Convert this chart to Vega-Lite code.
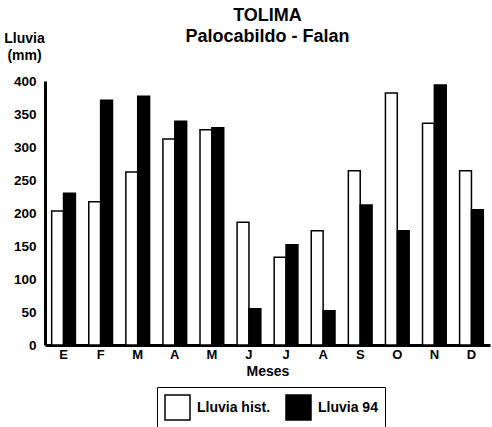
{
  "$schema": "https://vega.github.io/schema/vega-lite/v6.json",
  "autosize": "none",
  "padding": {"left": 45, "top": 81, "right": 2, "bottom": 82},
  "width": 445,
  "height": 264,
  "background": "white",
  "config": {"view": {"stroke": null}, "font": "Liberation Sans"},
  "title": {
    "text": "TOLIMA",
    "subtitle": "Palocabildo - Falan",
    "anchor": "middle",
    "font": "Liberation Sans",
    "fontSize": 18,
    "fontWeight": "bold",
    "color": "black",
    "subtitleFont": "Liberation Sans",
    "subtitleFontSize": 18,
    "subtitleFontWeight": "bold",
    "subtitleColor": "black",
    "subtitlePadding": 3,
    "offset": -15
  },
  "data": {
    "values": [
      {"mes": "Ene", "serie": "Lluvia hist.", "lluvia": 203},
      {"mes": "Ene", "serie": "Lluvia 94", "lluvia": 230},
      {"mes": "Feb", "serie": "Lluvia hist.", "lluvia": 217},
      {"mes": "Feb", "serie": "Lluvia 94", "lluvia": 371},
      {"mes": "Mar", "serie": "Lluvia hist.", "lluvia": 262},
      {"mes": "Mar", "serie": "Lluvia 94", "lluvia": 377},
      {"mes": "Abr", "serie": "Lluvia hist.", "lluvia": 312},
      {"mes": "Abr", "serie": "Lluvia 94", "lluvia": 339},
      {"mes": "May", "serie": "Lluvia hist.", "lluvia": 326},
      {"mes": "May", "serie": "Lluvia 94", "lluvia": 329},
      {"mes": "Jun", "serie": "Lluvia hist.", "lluvia": 186},
      {"mes": "Jun", "serie": "Lluvia 94", "lluvia": 55},
      {"mes": "Jul", "serie": "Lluvia hist.", "lluvia": 133},
      {"mes": "Jul", "serie": "Lluvia 94", "lluvia": 152},
      {"mes": "Ago", "serie": "Lluvia hist.", "lluvia": 173},
      {"mes": "Ago", "serie": "Lluvia 94", "lluvia": 52},
      {"mes": "Sep", "serie": "Lluvia hist.", "lluvia": 264},
      {"mes": "Sep", "serie": "Lluvia 94", "lluvia": 212},
      {"mes": "Oct", "serie": "Lluvia hist.", "lluvia": 382},
      {"mes": "Oct", "serie": "Lluvia 94", "lluvia": 173},
      {"mes": "Nov", "serie": "Lluvia hist.", "lluvia": 336},
      {"mes": "Nov", "serie": "Lluvia 94", "lluvia": 394},
      {"mes": "Dic", "serie": "Lluvia hist.", "lluvia": 264},
      {"mes": "Dic", "serie": "Lluvia 94", "lluvia": 205}
    ]
  },
  "mark": {"type": "bar", "stroke": "black", "strokeWidth": 1.5},
  "encoding": {
    "x": {
      "field": "mes",
      "type": "nominal",
      "sort": ["Ene", "Feb", "Mar", "Abr", "May", "Jun", "Jul", "Ago", "Sep", "Oct", "Nov", "Dic"],
      "scale": {"paddingInner": 0.36, "paddingOuter": 0.18},
      "axis": {
        "title": "Meses",
        "labelExpr": "substring(datum.label, 0, 1)",
        "labelAngle": 0,
        "labelFont": "Liberation Sans",
        "labelFontSize": 13,
        "labelFontWeight": "bold",
        "labelColor": "black",
        "labelPadding": 3,
        "ticks": false,
        "domainColor": "black",
        "domainWidth": 3,
        "titleFont": "Liberation Sans",
        "titleFontSize": 14,
        "titleFontWeight": "bold",
        "titleColor": "black",
        "titlePadding": 3
      }
    },
    "xOffset": {"field": "serie", "type": "nominal", "sort": ["Lluvia hist.", "Lluvia 94"]},
    "y": {
      "field": "lluvia",
      "type": "quantitative",
      "scale": {"domain": [0, 400], "nice": false},
      "axis": {
        "values": [0, 50, 100, 150, 200, 250, 300, 350, 400],
        "grid": false,
        "ticks": false,
        "domainColor": "black",
        "domainWidth": 3,
        "labelFont": "Liberation Sans",
        "labelFontSize": 13.5,
        "labelFontWeight": "bold",
        "labelColor": "black",
        "labelPadding": 9,
        "title": ["Lluvia", "(mm)"],
        "titleAngle": 0,
        "titleAlign": "center",
        "titleBaseline": "alphabetic",
        "titleX": -21,
        "titleY": -39,
        "titleLineHeight": 17,
        "titleFont": "Liberation Sans",
        "titleFontSize": 14,
        "titleFontWeight": "bold",
        "titleColor": "black"
      }
    },
    "fill": {
      "field": "serie",
      "type": "nominal",
      "sort": ["Lluvia hist.", "Lluvia 94"],
      "scale": {"domain": ["Lluvia hist.", "Lluvia 94"], "range": ["white", "black"]},
      "legend": {
        "title": null,
        "orient": "none",
        "legendX": 112,
        "legendY": 306,
        "direction": "horizontal",
        "columns": 2,
        "gridAlign": "all",
        "columnPadding": 12,
        "padding": 7,
        "strokeColor": "black",
        "symbolType": "square",
        "symbolSize": 625,
        "symbolStrokeColor": "black",
        "symbolStrokeWidth": 1.5,
        "labelOffset": 6,
        "labelFont": "Liberation Sans",
        "labelFontSize": 14,
        "labelFontWeight": "bold",
        "labelColor": "black"
      }
    }
  }
}
